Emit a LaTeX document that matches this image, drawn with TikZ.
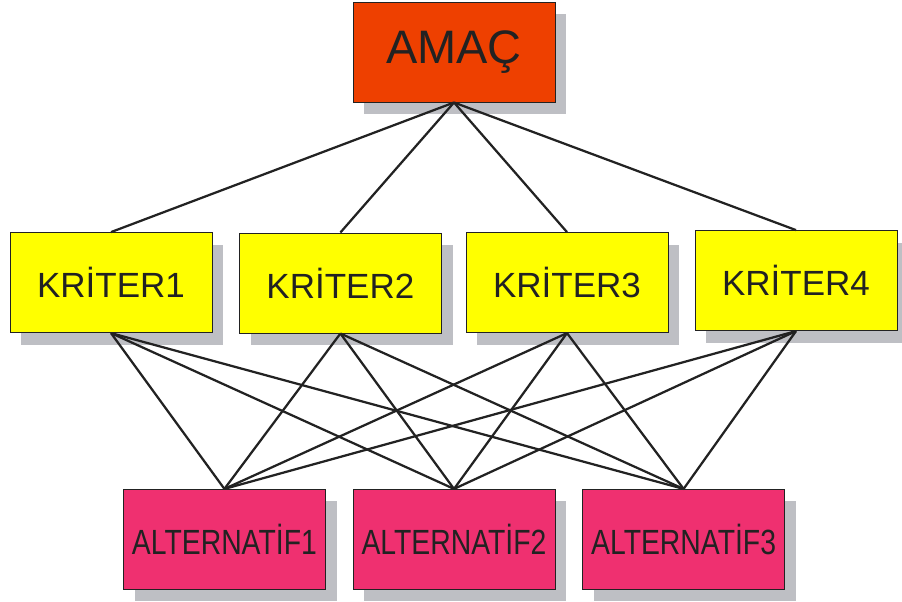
\documentclass[tikz,border=0pt]{standalone}
\usepackage{fontspec}
\setmainfont{Liberation Sans}
\newfontfamily\narrowfont[FakeStretch=0.81]{Liberation Sans}
\usetikzlibrary{shadows}

\definecolor{goalred}{RGB}{238,64,0}
\definecolor{crityellow}{RGB}{255,255,0}
\definecolor{altpink}{RGB}{239,48,112}
\definecolor{shadowgray}{RGB}{190,191,196}
\definecolor{inkgray}{RGB}{34,34,34}

\tikzset{
  box/.style={draw=inkgray, line width=.7pt, minimum width=5.05cm, minimum height=2.5cm,
    inner sep=0pt, text=inkgray,
    drop shadow={shadow xshift=.28cm, shadow yshift=-.3cm, fill=shadowgray, opacity=1}},
  goalbox/.style={box, fill=goalred, font=\fontsize{33.4}{36}\selectfont},
  critbox/.style={box, fill=crityellow, font=\fontsize{24.9}{28}\selectfont},
  altbox/.style={box, fill=altpink, font=\narrowfont\fontsize{24.9}{28}\selectfont},
  link/.style={draw=inkgray, line width=1.6pt}
}

\begin{document}
\begin{tikzpicture}
  \useasboundingbox (0, 0) rectangle (22.55, 15.025);

  %% goal
  \node[goalbox] (amac) at (11.35, 13.725) {AMAÇ};

  %% criteria
  \node[critbox] (krit1) at (2.775, 7.96) {KRİTER1};
  \node[critbox] (krit2) at (8.51, 7.95) {KRİTER2};
  \node[critbox] (krit3) at (14.175, 7.96) {KRİTER3};
  \node[critbox] (krit4) at (19.9, 8.01) {KRİTER4};

  %% alternatives
  \node[altbox] (alt1) at (5.61, 1.54) {ALTERNATİF1};
  \node[altbox] (alt2) at (11.35, 1.54) {ALTERNATİF2};
  \node[altbox] (alt3) at (17.09, 1.54) {ALTERNATİF3};

  %% goal to criteria
  \draw[link] (amac.south) to (krit1.north);
  \draw[link] (amac.south) to (krit2.north);
  \draw[link] (amac.south) to (krit3.north);
  \draw[link] (amac.south) to (krit4.north);

  %% criteria to alternatives
  \draw[link] (krit1.south) to (alt1.north);
  \draw[link] (krit1.south) to (alt2.north);
  \draw[link] (krit1.south) to (alt3.north);

  \draw[link] (krit2.south) to (alt1.north);
  \draw[link] (krit2.south) to (alt2.north);
  \draw[link] (krit2.south) to (alt3.north);

  \draw[link] (krit3.south) to (alt1.north);
  \draw[link] (krit3.south) to (alt2.north);
  \draw[link] (krit3.south) to (alt3.north);

  \draw[link] (krit4.south) to (alt1.north);
  \draw[link] (krit4.south) to (alt2.north);
  \draw[link] (krit4.south) to (alt3.north);
\end{tikzpicture}
\end{document}
